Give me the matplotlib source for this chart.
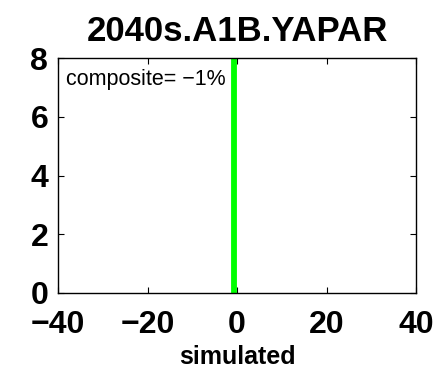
import matplotlib
matplotlib.use('Agg')
import matplotlib.pyplot as plt

# chart values
title = '2040s.A1B.YAPAR'
composite_pct = -1
line_x = [-0.6, -0.6]
line_y = [0, 8]
x_ticks = [-40, -20, 0, 20, 40]
y_ticks = [0, 2, 4, 6, 8]

plt.rcParams['font.family'] = ['Liberation Sans', 'DejaVu Sans']

fig = plt.figure(figsize=(4.37, 3.72), dpi=100)
ax = fig.add_axes([58 / 437, 1 - 293 / 372, 358 / 437, 235 / 372])

ax.plot(line_x, line_y, color='#00ff00', linewidth=4.2, solid_capstyle='butt')

ax.set_xlim(-40, 40)
ax.set_ylim(0, 8)
ax.set_xticks(x_ticks)
ax.set_yticks(y_ticks)
ax.tick_params(direction='in', top=True, right=True, length=4, width=0.8,
               labelsize=23)
ax.tick_params(axis='x', pad=12)
ax.tick_params(axis='y', pad=7)
for lab in ax.get_xticklabels() + ax.get_yticklabels():
    lab.set_fontweight('bold')
for sp in ax.spines.values():
    sp.set_linewidth(1.0)

ax.text(0.022, 0.955, f'composite= \u2212{abs(composite_pct)}%', transform=ax.transAxes,
        ha='left', va='top', fontsize=15.5)

ax.set_title(title, fontsize=25, fontweight='bold', pad=12)
ax.set_xlabel('simulated', fontsize=18, fontweight='bold', labelpad=4)

fig.savefig('out.png', dpi=100)
